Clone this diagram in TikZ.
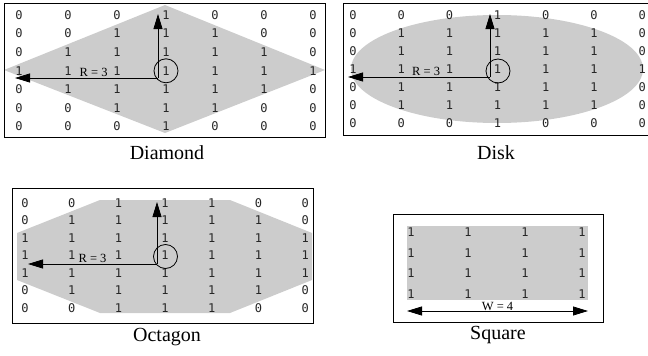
\documentclass[tikz,border=0pt]{standalone}
\usepackage{fontspec}
\setmainfont{Liberation Serif}
\newfontfamily\cellfont{DejaVu Sans Mono}
\usetikzlibrary{arrows.meta}

\begin{document}
\begin{tikzpicture}[x=1pt, y=-1pt,
    cell/.style={font=\cellfont\fontsize{12}{12}\selectfont, text=black!85, inner sep=0pt},
    frame/.style={draw, line width=1pt},
    blob/.style={fill=black!20},
    ctr/.style={draw, circle, minimum size=24pt, inner sep=0pt, line width=0.8pt},
    arr/.style={-{Triangle[length=15pt,width=9pt]}, line width=0.8pt},
    title/.style={font=\fontsize{20}{20}\selectfont},
    lbl/.style={font=\fontsize{12.5}{12.5}\selectfont, above, inner sep=1pt}
  ]
  \useasboundingbox (0,0) rectangle (648,356);

  % Diamond
  \fill[blob] (165,5) -- (325,70) -- (165,133) -- (4,70) -- cycle;
  \foreach \row [count=\r] in {{0,0,0,1,0,0,0},{0,0,1,1,1,0,0},{0,1,1,1,1,1,0},
      {1,1,1,1,1,1,1},{0,1,1,1,1,1,0},{0,0,1,1,1,0,0},{0,0,0,1,0,0,0}}
    \foreach \v [count=\c] in \row
      \node[cell] (d-\r-\c) at ({19+49*(\c-1)},{15+18.6*(\r-1)}) {\v};
  \draw[frame] (4,3) rectangle (325,137);
  \node[ctr] (d-c) at (d-4-4) {};
  \coordinate (d-o) at (158,78);
  \coordinate (d-l) at (15,78);
  \coordinate (d-t) at (158,14);
  \draw[arr] (d-o) -- node[lbl, pos=0.45] {R = 3} (d-l);
  \draw[arr] (d-o) -- (d-t);
  \node[title] (title-d) at (167,153) {Diamond};

  % Disk
  \fill[blob] (497,69) ellipse [x radius=146pt, y radius=54pt];
  \foreach \row [count=\r] in {{0,0,0,1,0,0,0},{0,1,1,1,1,1,0},{0,1,1,1,1,1,0},
      {1,1,1,1,1,1,1},{0,1,1,1,1,1,0},{0,1,1,1,1,1,0},{0,0,0,1,0,0,0}}
    \foreach \v [count=\c] in \row
      \node[cell] (k-\r-\c) at ({353+48.2*(\c-1)},{15+18*(\r-1)}) {\v};
  \draw[frame] (343,3) rectangle (655,135);
  \node[ctr] (k-c) at (498,71) {};
  \coordinate (k-o) at (490,77);
  \coordinate (k-l) at (348,77);
  \coordinate (k-t) at (490,14);
  \draw[arr] (k-o) -- node[lbl, pos=0.45] {R = 3} (k-l);
  \draw[arr] (k-o) -- (k-t);
  \node[title] (title-k) at (496,153) {Disk};

  % Octagon
  \fill[blob] (100,200) -- (230,200) -- (312,233) -- (312,280) -- (230,313)
    -- (100,313) -- (17,280) -- (17,233) -- cycle;
  \foreach \row [count=\r] in {{0,0,1,1,1,0,0},{0,1,1,1,1,1,0},{1,1,1,1,1,1,1},
      {1,1,1,1,1,1,1},{1,1,1,1,1,1,1},{0,1,1,1,1,1,0},{0,0,1,1,1,0,0}}
    \foreach \v [count=\c] in \row
      \node[cell] (o-\r-\c) at ({25+46.7*(\c-1)},{203+17.5*(\r-1)}) {\v};
  \draw[frame] (12,188) rectangle (313,323);
  \node[ctr] (o-c) at (165.5,256.5) {};
  \coordinate (o-o) at (157,264);
  \coordinate (o-l) at (28,264);
  \coordinate (o-t) at (157,202);
  \draw[arr] (o-o) -- node[lbl, pos=0.5] {R = 3} (o-l);
  \draw[arr] (o-o) -- (o-t);
  \node[title] (title-o) at (167,337) {Octagon};

  % Square
  \fill[blob] (407,226) rectangle (588,300);
  \foreach \r in {1,...,4}
    \foreach \c in {1,...,4}
      \node[cell] (s-\r-\c) at ({411+57*(\c-1)},{232+20.7*(\r-1)}) {1};
  \draw[frame] (393,214) rectangle (603,322);
  \coordinate (s-l) at (407,311);
  \coordinate (s-r) at (588,311);
  \draw[arr, {Triangle[length=15pt,width=9pt]}-{Triangle[length=15pt,width=9pt]}]
    (s-l) -- node[lbl, inner sep=0pt] {W = 4} (s-r);
  \node[title] (title-s) at (498,335) {Square};
\end{tikzpicture}
\end{document}
